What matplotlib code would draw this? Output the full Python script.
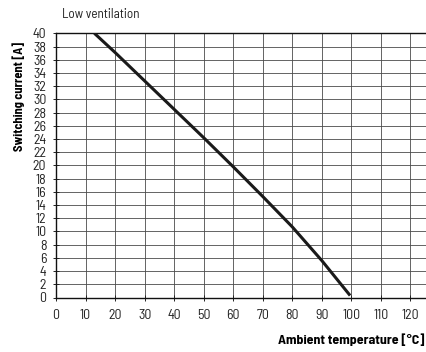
"""
Derating curve, low ventilation: switching current vs ambient temperature.

Output:
    out.png
"""
import matplotlib as mpl
import matplotlib.pyplot as plt

TEMP_C = [13, 20, 30, 40, 50, 60, 70, 80, 90, 99.6]
CURRENT_A = [40, 37.1, 32.8, 28.5, 24.2, 19.8, 15.3, 10.7, 5.6, 0.3]

X_TICKS = list(range(0, 121, 10))
Y_TICKS = list(range(0, 41, 2))

FAMILY = ["Barlow Semi Condensed", "DejaVu Sans"]
COLOR_GRID = "#4a4a4a"


def main() -> None:
    mpl.rcParams["font.family"] = FAMILY

    fig = plt.figure(figsize=(4.26, 3.52), dpi=100)
    ax = fig.add_axes([56 / 426, 1 - 297.5 / 352, 1 - 56 / 426, (297.5 - 33.3) / 352])

    ax.plot(TEMP_C, CURRENT_A, color="#1a1a1a", linewidth=2.2,
            solid_capstyle="butt", zorder=3)

    ax.set_xlim(0, 125.3)
    ax.set_ylim(0, 40)
    ax.set_xticks(X_TICKS)
    ax.set_yticks(Y_TICKS)
    ax.grid(True, color=COLOR_GRID, linewidth=0.6)
    ax.set_axisbelow(True)

    for side in ("top", "bottom", "left"):
        ax.spines[side].set_color("#111111")
        ax.spines[side].set_linewidth(1.0)
    ax.spines["right"].set_visible(False)

    ax.tick_params(axis="both", labelsize=10, labelcolor="#222222",
                   color="#222222", direction="inout", length=4, width=0.7)
    ax.tick_params(axis="y", pad=5)
    ax.tick_params(axis="x", pad=6)

    fig.text(19 / 426, 1 - 42 / 352, "Switching current [A]",
             fontsize=9, fontweight="bold", rotation=90,
             ha="center", va="top")
    fig.text(425 / 426, 1 - 340 / 352, "Ambient temperature [°C]",
             fontsize=10, fontweight="bold", ha="right", va="center")
    fig.text(62 / 426, 1 - 14 / 352, "Low ventilation", fontsize=9.5,
             ha="left", va="center", color="#222222")

    fig.savefig("out.png", dpi=100)
    plt.close(fig)


if __name__ == "__main__":
    main()
